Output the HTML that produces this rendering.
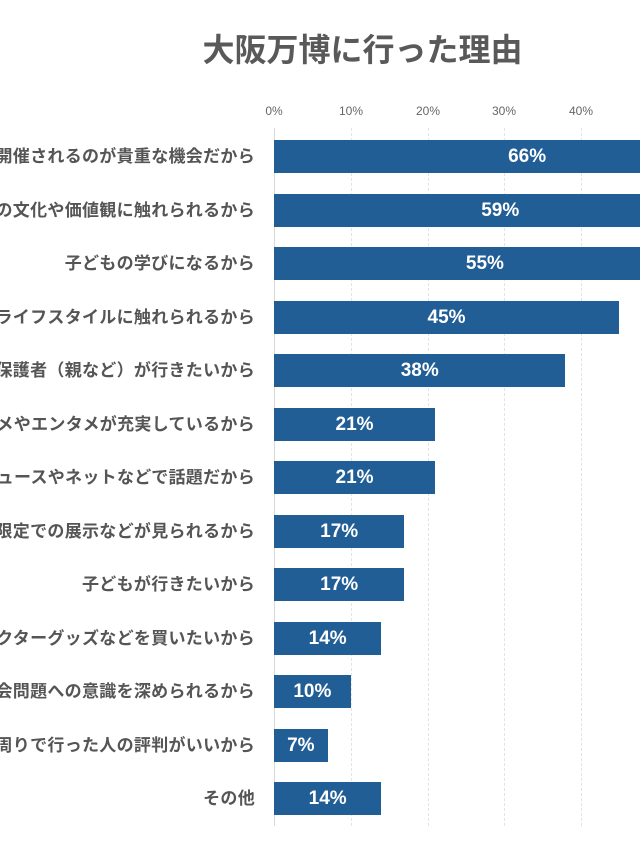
<!DOCTYPE html>
<html><head><meta charset="utf-8"><style>
html,body{margin:0;width:640px;height:853px;overflow:hidden;background:#fff;font-family:"Liberation Sans","Noto Sans CJK JP",sans-serif}
#w{position:relative;width:640px;height:853px;overflow:hidden}
.t{position:absolute;left:0;width:725px;top:25px;text-align:center;font-size:32px;font-weight:bold;color:#595959}
.tick{position:absolute;top:104px;font-size:12px;color:#666;transform:translateX(-50%)}
.g{position:absolute;top:128px;height:698px;border-left:1px dashed #e3e3e3}
.lab{position:absolute;right:385px;font-size:17px;letter-spacing:0.3px;font-weight:bold;color:#555;white-space:nowrap;line-height:33px}
.bar{position:absolute;left:274px;height:33px;background:#225e96;color:#fff;font-weight:bold;font-size:19px;line-height:33px;text-align:center}
</style></head><body><div id="w">
<div class="t">大阪万博に行った理由</div>
<div class="tick" style="left:274px">0%</div>
<div class="tick" style="left:351px">10%</div>
<div class="tick" style="left:428px">20%</div>
<div class="tick" style="left:504px">30%</div>
<div class="tick" style="left:581px">40%</div>
<div class="g" style="left:351px"></div>
<div class="g" style="left:428px"></div>
<div class="g" style="left:504px"></div>
<div class="g" style="left:581px"></div>
<div class="g" style="left:274px;border-left:1px solid #d8d8d8"></div>
<div id="c"></div>
</div>
<script>
var d=[["日本で開催されるのが貴重な機会だから",66],["世界の文化や価値観に触れられるから",59],["子どもの学びになるから",55],["未来のライフスタイルに触れられるから",45],["保護者（親など）が行きたいから",38],["グルメやエンタメが充実しているから",21],["ニュースやネットなどで話題だから",21],["期間限定での展示などが見られるから",17],["子どもが行きたいから",17],["キャラクターグッズなどを買いたいから",14],["社会問題への意識を深められるから",10],["周りで行った人の評判がいいから",7],["その他",14]];
var h="";d.forEach(function(r,i){var y=140+i*53.5;h+='<div class="lab" style="top:'+y+'px">'+r[0]+'</div><div class="bar" style="top:'+y+'px;width:'+(r[1]*7.67)+'px">'+r[1]+'%</div>';});
document.getElementById("c").innerHTML=h;
</script>
</body></html>
